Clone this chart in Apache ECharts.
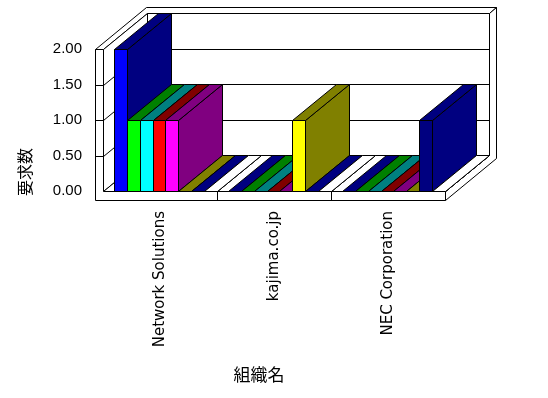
<!DOCTYPE html>
<html>
<head>
<meta charset="utf-8">
<title>組織名別 要求数</title>
<script src="https://cdn.jsdelivr.net/npm/echarts@6/dist/echarts.min.js"></script>
<style>
  html, body { margin: 0; padding: 0; background: #fff; }
  #chart { width: 548px; height: 398px; }
</style>
</head>
<body>
<div id="chart"></div>
<script>
// data
const categories = ["Network Solutions", "kajima.co.jp", "NEC Corporation"];
const seriesNames = ["系列1", "系列2", "系列3", "系列4", "系列5", "系列6", "系列7", "系列8"];
const s1 = [2, 0, 0];
const s2 = [1, 0, 0];
const s3 = [1, 0, 0];
const s4 = [1, 0, 0];
const s5 = [1, 0, 0];
const s6 = [0, 1, 0];
const s7 = [0, 0, 1];
const s8 = [0, 0, 0];
const seriesValues = [s1, s2, s3, s4, s5, s6, s7, s8];
const yTicks = [0, 0.5, 1, 1.5, 2];

// face colours: front, top/side
const frontColors = ["#0000ff", "#00ff00", "#00ffff", "#ff0000", "#ff00ff", "#ffff00", "#000080", "#ffffff"];
const darkColors = ["#000080", "#008000", "#008080", "#800000", "#800080", "#808000", "#000080", "#ffffff"];

// pseudo 3d geometry (px)
const DX = 44, DY = -36;   // depth of the plot box
const TX = 7, TY = -6;     // back wall thickness
const WALL = 8;            // left wall thickness
const FLOOR = 9;           // floor thickness
const LEFT_GAP = 0.096;    // empty part of each category, left side

function px(v) {
  return Math.round(v) + 0.5;
}

const myChart = echarts.init(document.getElementById("chart"));

function renderFrame(params, api) {
  const band = api.size([1, 0])[0];
  const xl = px(api.coord([0, 0])[0] - band / 2);
  const xr = px(api.coord([categories.length - 1, 0])[0] + band / 2);
  const y0 = px(api.coord([0, 0])[1]);
  const yt = px(api.coord([0, yTicks[yTicks.length - 1]])[1]);
  const face = { fill: "#fff", stroke: "#000", lineWidth: 1 };
  const ln = { stroke: "#000", lineWidth: 1 };
  const children = [];

  // top of left wall + back wall
  children.push({
    type: "polygon",
    shape: { points: [[xl - WALL, yt], [xl, yt], [xl + DX, yt + DY], [xr + DX, yt + DY],
      [xr + DX + TX, yt + DY + TY], [xl - WALL + DX + TX, yt + DY + TY]] },
    style: face
  });
  // right side of back wall + floor
  children.push({
    type: "polygon",
    shape: { points: [[xr + DX, yt + DY], [xr + DX + TX, yt + DY + TY], [xr + DX + TX, y0 + FLOOR + DY + TY],
      [xr, y0 + FLOOR], [xr, y0], [xr + DX, y0 + DY]] },
    style: face
  });
  // back wall
  children.push({
    type: "polygon",
    shape: { points: [[xl + DX, yt + DY], [xr + DX, yt + DY], [xr + DX, y0 + DY], [xl + DX, y0 + DY]] },
    style: face
  });
  // left wall, inner side
  children.push({
    type: "polygon",
    shape: { points: [[xl, yt], [xl + DX, yt + DY], [xl + DX, y0 + DY], [xl, y0]] },
    style: face
  });
  yTicks.slice(1, -1).forEach(function (v) {
    const y = px(api.coord([0, v])[1]);
    children.push({ type: "line", shape: { x1: xl + DX, y1: y + DY, x2: xr + DX, y2: y + DY }, style: ln });
    children.push({ type: "line", shape: { x1: xl, y1: y, x2: xl + DX, y2: y + DY }, style: ln });
  });
  // floor top
  children.push({
    type: "polygon",
    shape: { points: [[xl, y0], [xl + DX, y0 + DY], [xr + DX, y0 + DY], [xr, y0]] },
    style: face
  });
  // front of left wall + floor
  children.push({
    type: "polygon",
    shape: { points: [[xl - WALL, yt], [xl, yt], [xl, y0], [xr, y0], [xr, y0 + FLOOR], [xl - WALL, y0 + FLOOR]] },
    style: face
  });
  yTicks.slice(1, -1).forEach(function (v) {
    const y = px(api.coord([0, v])[1]);
    children.push({ type: "line", shape: { x1: xl - WALL, y1: y, x2: xl, y2: y }, style: ln });
  });
  for (let i = 1; i < categories.length; i++) {
    const x = px(api.coord([i, 0])[0] - band / 2);
    children.push({ type: "line", shape: { x1: x, y1: y0, x2: x, y2: y0 + FLOOR }, style: ln });
  }
  return { type: "group", children: children };
}

function barRenderer(k) {
  return function (params, api) {
    const cat = api.value(0);
    const v = api.value(1);
    const band = api.size([1, 0])[0];
    const base = api.coord([cat, 0]);
    const top = api.coord([cat, v]);
    const barW = band * (1 - LEFT_GAP) / seriesValues.length;
    const start = base[0] - band / 2 + band * LEFT_GAP;
    const x0 = px(start + k * barW);
    const x1 = px(start + (k + 1) * barW);
    const yb = px(base[1]);
    const yt = px(top[1]);
    const edge = { stroke: "#000", lineWidth: 1 };
    return {
      type: "group",
      children: [
        {
          type: "polygon",
          shape: { points: [[x1, yt], [x1, yb], [x1 + DX, yb + DY], [x1 + DX, yt + DY]] },
          style: Object.assign({ fill: darkColors[k] }, edge)
        },
        {
          type: "polygon",
          shape: { points: [[x0, yt], [x1, yt], [x1 + DX, yt + DY], [x0 + DX, yt + DY]] },
          style: Object.assign({ fill: darkColors[k] }, edge)
        },
        {
          type: "rect",
          shape: { x: x0, y: yt, width: x1 - x0, height: yb - yt },
          style: Object.assign({ fill: frontColors[k] }, edge)
        }
      ]
    };
  };
}

const series = [
  {
    name: "frame",
    type: "custom",
    renderItem: renderFrame,
    data: [[0, 0]],
    encode: { x: 0, y: 1 },
    clip: false,
    silent: true,
    z: 1
  }
];
seriesValues.forEach(function (vals, k) {
  series.push({
    name: seriesNames[k],
    type: "custom",
    renderItem: barRenderer(k),
    data: vals.map(function (v, i) { return [i, v]; }),
    encode: { x: 0, y: 1 },
    clip: false,
    z: 2
  });
});

var option = {
  animation: false,
  grid: {
    left: 103,
    right: 103,
    top: 49,
    bottom: 207
  },
  xAxis: {
    type: "category",
    data: categories,
    axisLine: { show: false },
    axisTick: { show: false },
    splitLine: { show: false },
    axisLabel: {
      interval: 0,
      rotate: 90,
      margin: 20,
      color: "#000",
      fontFamily: "DejaVu Sans",
      fontSize: 15
    }
  },
  yAxis: {
    type: "value",
    min: 0,
    max: 2,
    interval: 0.5,
    axisLine: { show: false },
    axisTick: { show: false },
    splitLine: { show: false },
    axisLabel: {
      margin: 21,
      color: "#000",
      fontFamily: "Liberation Sans",
      fontSize: 15,
      formatter: function (v) { return v.toFixed(2); }
    }
  },
  graphic: [
    {
      type: "text",
      x: 25,
      y: 172,
      rotation: Math.PI / 2,
      style: {
        text: "要求数",
        font: '16px "Noto Sans CJK JP"',
        fill: "#000",
        textAlign: "center",
        textVerticalAlign: "middle"
      }
    },
    {
      type: "text",
      x: 259,
      y: 375,
      style: {
        text: "組織名",
        font: '17px "Noto Sans CJK JP"',
        fill: "#000",
        textAlign: "center",
        textVerticalAlign: "middle"
      }
    }
  ],
  series: series
};

myChart.setOption(option);
window.addEventListener("resize", function () {
  myChart.resize();
});
</script>
</body>
</html>
